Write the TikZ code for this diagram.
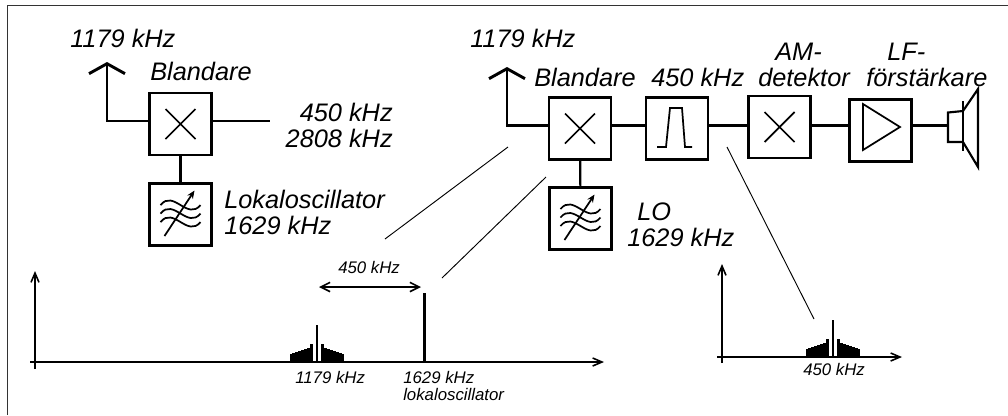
\documentclass[tikz,border=0pt]{standalone}
\usepackage{fontspec}
\setmainfont{Liberation Sans}
\usetikzlibrary{arrows.meta,positioning}
\tikzset{
  ebox/.style={draw,line width=1.6pt,minimum size=46.5pt,outer sep=0pt,inner sep=0pt},
  wire/.style={line width=1.6pt},
  leader/.style={line width=0.7pt},
  lbl/.style={font=\itshape\fontsize{19}{19}\selectfont,inner sep=0pt,anchor=base west,align=left},
  tiny/.style={font=\itshape\fontsize{12.6}{12.2}\selectfont,inner sep=0pt,anchor=base west,align=left},
  ant/.style={wire,-{Straight Barb[length=7.5pt,width=27pt,line width=2.2pt]}},
  axis/.style={line width=1.2pt,-{Straight Barb[length=7pt,width=6pt]}},
  crossmark/.pic={\draw[line width=1.3pt] (-15,-15)--(15,15) (-15,15)--(15,-15);},
  vco/.pic={
    \foreach \yy in {-9.5,-1,7.5}
      \draw[line width=1.3pt] (-20,\yy) .. controls (-7,\yy-16) and (7,\yy+16) .. (20,\yy);
    \draw[line width=1.3pt,-{Stealth[length=6pt,width=5pt]}] (-16,21.5)--(14,-24);
  },
  sideband/.pic={
    \draw[line width=1.4pt] (0,0)--(0,-37);
    \foreach \dx/\hh in {4/18,7/14,10/13,13/12,16/11,19/10,22/9,24/8}{
      \fill (\dx,0) rectangle ++(3.2,-\hh);
      \fill (-\dx,0) rectangle ++(-3.2,-\hh);
    }
  },
}
\begin{document}
\begin{tikzpicture}[x=0.75pt,y=-0.75pt]
    \useasboundingbox (0,0) rectangle (1008,415);
    \draw[line width=1.1pt,black!80] (7.5,415)--(7.5,5.5)--(1008,5.5);
    % left block
    \node[ebox](mixa) at (180.5,124){};
    \node[ebox,below=21.4pt of mixa](osca){};
    \coordinate (anta) at (107,62);
    \coordinate (outa) at (270,121);
    \pic at (mixa) {crossmark};
    \pic at (osca) {vco};
    \draw[ant](mixa.west|-outa) -| (anta);
    \draw[wire](mixa.east|-outa)--(outa);
    \draw[wire](mixa)--(osca);
    \node[lbl](fa) at (70,47){1179 kHz};
    \node[lbl](bla) at (150,80){Blandare};
    \node[lbl,anchor=base east,align=right](ifa) at (393,147){450 kHz\\2808 kHz};
    \node[lbl](loa) at (224,234){Lokaloscillator\\1629 kHz};
    % right block
    \node[ebox](mixb) at (580,128.5){};
    \node[ebox,right=26.25pt of mixb](filt){};
    \node[ebox,right=30.4pt of filt,yshift=1.1pt](am){};
    \node[ebox,right=29.25pt of am,yshift=-2.6pt](amp){};
    \node[ebox](lob) at (580.5,218.5){};
    \coordinate (antb) at (507,67);
    \coordinate (spk) at (948,125.5);
    \pic at (mixb) {crossmark};
    \pic at (am) {crossmark};
    \pic at (lob) {vco};
    \draw[line width=1.3pt] (657,147)--(666,147)--(670,108)--(682,108)--(685,147)--(692,147);
    \draw[line width=1.3pt] (863,104)--(863,150)--(900,127)--cycle;
    \draw[ant](mixb.west|-spk) -| (antb);
    \draw[wire](mixb.east|-spk)--(filt.west|-spk);
    \draw[wire](filt.east|-spk)--(am.west|-spk);
    \draw[wire](am.east|-spk)--(amp.west|-spk);
    \draw[wire](amp.east|-spk)--(spk);
    \draw[wire](mixb)--(lob);
    % speaker
    \draw[wire] (963,111)--(948,112.5)--(948,142)--(963,142);
    \draw[wire] (963,101)--(963,151);
    \draw[wire] (963,111)--(978,89)--(978,167)--(963,142);
    \node[lbl](fb) at (470,47){1179 kHz};
    \node[lbl](blb) at (534,86){Blandare};
    \node[lbl](ifb) at (651,86){450 kHz};
    \node[lbl](det) at (758,86){\hspace*{12.75pt}AM-\\detektor};
    \node[lbl](lf) at (866,86){\hspace*{15.75pt}LF-\\förstärkare};
    \node[lbl](lob1) at (627,246){\hspace*{7.5pt}LO\\1629 kHz};
    % spectra
    \draw[axis](30,362)--(604,362);
    \draw[axis](35,369)--(35,271);
    \draw[axis](717,357)--(902,357);
    \draw[axis](722,363)--(722,264);
    \pic at (316.7,361.5) {sideband};
    \pic at (833,356.5) {sideband};
    \coordinate (lotop) at (424.5,293);
    \coordinate (lofoot) at (424.5,362);
    \draw[wire](lofoot)--(lotop);
    \coordinate (dl) at (319,287);
    \coordinate (dr) at (421,287);
    \draw[line width=1.2pt,{Straight Barb[length=7pt,width=7pt]}-{Straight Barb[length=7pt,width=7pt]}](dl)--(dr);
    \node[tiny](da) at (338,273){450 kHz};
    \node[tiny](sa) at (295,383){1179 kHz};
    \node[tiny](sb) at (403,400){1629 kHz\\lokaloscillator};
    \node[tiny](sc) at (803,375){450 kHz};
    % leaders
    \coordinate (l1a) at (508,147);
    \coordinate (l1b) at (385,239);
    \coordinate (l2a) at (546,177);
    \coordinate (l2b) at (442,278);
    \coordinate (l3a) at (727,147);
    \coordinate (l3b) at (814,319);
    \draw[leader](l1a)--(l1b);
    \draw[leader](l2a)--(l2b);
    \draw[leader](l3a)--(l3b);
\end{tikzpicture}
\end{document}
